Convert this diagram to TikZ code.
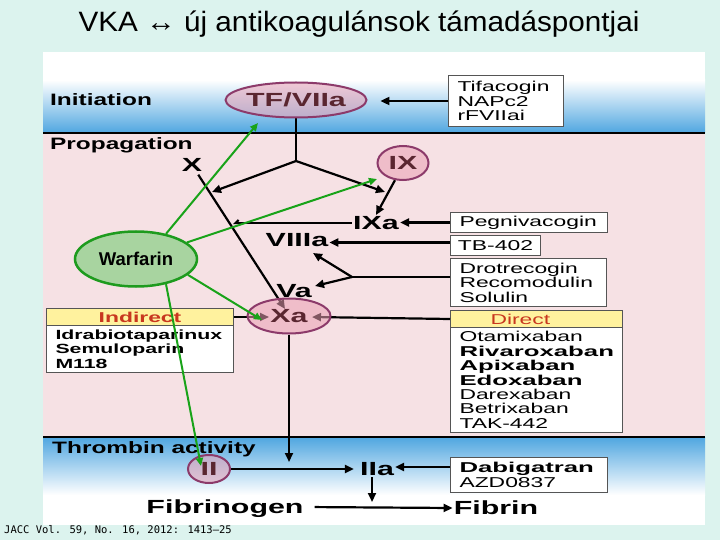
\documentclass[tikz,border=0pt]{standalone}
\usepackage{fontspec}
\setmainfont{Liberation Sans}
\newfontfamily\ttl[FakeStretch=1.06]{Liberation Sans}
\newfontfamily\dg[FakeStretch=1.6]{Liberation Sans}
\newfontfamily\dgs[FakeStretch=1.48]{Liberation Sans}
\newfontfamily\dgh[FakeStretch=1.8]{Liberation Sans}
\newfontfamily\ft{DejaVu Sans Mono}
\usetikzlibrary{shapes.geometric,arrows.meta}
\definecolor{bgc}{HTML}{DCF3EE}
\definecolor{pinkbg}{HTML}{F6E1E4}
\definecolor{blueb}{HTML}{4FA6E0}
\definecolor{plum}{HTML}{8C3A6A}
\definecolor{facfill}{HTML}{EBA0B4}
\definecolor{factext}{HTML}{5A2630}
\definecolor{yel}{HTML}{FFF29E}
\definecolor{redc}{HTML}{C8371F}
\definecolor{wgreen}{HTML}{1E9B1E}
\definecolor{wfill}{HTML}{A8D4A0}
\definecolor{ggreen}{HTML}{19A319}
\definecolor{boxdraw}{HTML}{555555}
\pgfdeclarelayer{fore}
\pgfdeclarelayer{top}
\pgfsetlayers{main,fore,top}
\tikzset{
  seclab/.style={anchor=base west, inner sep=0pt, font=\dgs\bfseries\fontsize{16.5}{18}\selectfont},
  big/.style={inner sep=1pt, text height=13.6pt, text depth=0pt, font=\dg\bfseries\fontsize{19}{20}\selectfont},
  fac/.style={ellipse, draw=plum, line width=2pt, fill=facfill, fill opacity=0.55, draw opacity=1, text opacity=1,
              text=factext, inner sep=0pt, text height=13.6pt, text depth=0pt, font=\dg\bfseries\fontsize{19}{20}\selectfont},
  drugbox/.style={rectangle, draw=boxdraw, line width=1pt, fill=white, anchor=north west, inner xsep=9pt, inner ysep=0pt,
              align=left, font=\dg\fontsize{14.3}{14.4}\selectfont},
  hdr/.style={rectangle, draw=boxdraw, line width=1pt, fill=yel, anchor=north west, inner xsep=9pt, inner ysep=0pt,
              text=redc, font=\dg\fontsize{14.3}{14.4}\selectfont},
  conn/.style={black, line width=2.2pt},
  arr/.style={conn, -{Triangle[length=9pt,width=8pt]}},
  garr/.style={ggreen, line width=2pt, -{Triangle[length=8pt,width=7pt]}}
}
\begin{document}
\begin{tikzpicture}[x=1pt,y=-1pt]
\useasboundingbox (0,0) rectangle (720,540);
% background
\fill[bgc] (0,0) rectangle (720,540);
\fill[white] (43,52) rectangle (705,525);
\shade[top color=white,bottom color=blueb] (43,80) rectangle (705,133);
\fill[pinkbg] (43,133) rectangle (705,437);
\shade[top color=blueb,bottom color=white] (43,437) rectangle (705,495);
\draw[line width=2.5pt] (43,133) -- (705,133);
\draw[line width=2.5pt] (43,437) -- (705,437);

% title and labels
\node[anchor=base, inner sep=0pt, font=\ttl\fontsize{28}{30}\selectfont] (title) at (359,32) {VKA ↔ új antikoagulánsok támadáspontjai};
\node[seclab] (init) at (50,106) {Initiation};
\node[seclab] (prop) at (50,150) {Propagation};
\node[seclab] (thr) at (52,453) {Thrombin activity};
\node[anchor=base west, inner sep=0pt, font=\ft\fontsize{10.5}{12}\selectfont] (fn) at (4,533) {JACC Vol. 59, No. 16, 2012: 1413–25};

% factor ellipses (semi-transparent, above connectors)
\begin{pgfonlayer}{fore}
\node[fac, minimum width=137pt, minimum height=35pt] (tf) at (296,100) {TF/VIIa};
\node[fac, minimum width=51pt, minimum height=34pt] (ix) at (403,163) {IX};
\node[fac, minimum width=83pt, minimum height=35pt] (xa) at (289,316) {Xa};
\node[fac, minimum width=42pt, minimum height=28pt] (ii) at (209,469) {II};
\end{pgfonlayer}

% plain labels
\node[big] (X) at (192,165) {X};
\node[big] (ixa) at (376,223) {IXa};
\node[big] (viiia) at (297,240) {VIIIa};
\node[big] (va) at (294,291) {Va};
\node[big] (iia) at (377,469) {IIa};
\node[big] (fbg) at (225,507) {Fibrinogen};
\node[big] (fib) at (496,508) {Fibrin};

% drug boxes
\node[drugbox, minimum width=115pt, minimum height=51pt, text width=97pt] (tifa) at (448,75) {Tifacogin\\NAPc2\\rFVIIai};
\node[drugbox, minimum width=157pt, minimum height=20pt, text width=139pt] (peg) at (450,212) {Pegnivacogin};
\node[drugbox, minimum width=90pt, minimum height=20pt, inner xsep=0pt] (tb) at (450,235) {TB-402};
\node[drugbox, minimum width=156pt, minimum height=48pt, text width=138pt] (dro) at (450,258) {Drotrecogin\\Recomodulin\\Solulin};
\node[hdr, minimum width=172pt, minimum height=17pt, text width=154pt, align=left] (dirh) at (450,310) {\hspace*{31pt}Direct};
\node[drugbox, minimum width=172pt, minimum height=105pt, text width=154pt] (dirb) at (450,327)
  {Otamixaban\\{\dgh\bfseries Rivaroxaban}\\{\dgh\bfseries Apixaban}\\{\dgh\bfseries Edoxaban}\\Darexaban\\Betrixaban\\TAK-442};
\node[hdr, minimum width=187pt, minimum height=17pt, text width=169pt, align=center, font=\dg\bfseries\fontsize{14.3}{14.4}\selectfont] (indh) at (46,308) {Indirect};
\node[drugbox, minimum width=187pt, minimum height=47pt, text width=169pt, font=\dg\bfseries\fontsize{13.3}{14.4}\selectfont] (indb) at (46,325)
  {Idrabiotaparinux\\Semuloparin\\M118};
\node[drugbox, minimum width=157pt, minimum height=35pt, text width=139pt] (dab) at (450,457) {{\dgh\bfseries Dabigatran}\\AZD0837};

% coordinates for connector ends
\coordinate (br) at (296,161);
\coordinate (tl) at (212,192);
\coordinate (tr) at (385,192);
\coordinate (xin) at (285,309);
\coordinate (ixl) at (233,222);
\coordinate (br2) at (352,277);
\coordinate (tv8) at (313,253);
\coordinate (tva) at (315,286);
\coordinate (xal) at (269,317);
\coordinate (xar) at (312,317);
\coordinate (xad) at (289,462);
\coordinate (iid) at (372,502);

% black connectors
\draw[arr, shorten >=13pt] (tifa.west) -- (tifa.west -| tf.east);
\draw[conn] (tf.south) -- (br);
\draw[arr] (br) -- (tl);
\draw[arr] (br) -- (tr);
\draw[arr, shorten <=2pt] (X) -- (xin);
\draw[arr] (ix.-115) -- (ixa.north);
\draw[conn, -{Straight Barb[right,length=3pt,width=6pt]}] (ixa.west) -- (ixa.west -| ixl);
\draw[arr] (peg.west) -- (peg.west -| ixa.east);
\draw[arr] ([yshift=3pt]tb.west) -- ([yshift=3pt]tb.west -| viiia.east);
\draw[conn] (dro.west |- br2) -- (br2);
\draw[arr] (br2) -- (tv8);
\draw[arr] (br2) -- (tva);
\draw[arr] (indh.east) -- (xal);
\draw[arr] (dirh.west) -- (xar);
\draw[arr] (xa.south) -- (xad);
\draw[arr, shorten >=5pt] (ii.east) -- (ii.east -| iia.west);
\draw[arr] ([yshift=8pt]dab.west) -- ([yshift=8pt]dab.west -| iia.east);
\draw[arr] (iia.south -| iid) -- (iid);
\draw[arr, shorten <=10pt] (fbg.east) -- (fib.west);

% warfarin
\node[ellipse, draw=wgreen, line width=2.5pt, fill=wfill, minimum width=122pt, minimum height=55pt, inner sep=0pt,
      font=\bfseries\fontsize{18.5}{20}\selectfont] (w) at (136,259) {Warfarin};
\coordinate (g1) at (258,123);
\coordinate (g2) at (377,179);
\coordinate (g3) at (262,320);
\coordinate (g4) at (201,466);
\begin{pgfonlayer}{top}
\draw[garr] (w.40) -- (g1);
\draw[garr] (w.18) -- (g2);
\draw[garr] (w.-17) -- (g3);
\draw[garr] (w.-40) -- (g4);
\end{pgfonlayer}
\end{tikzpicture}
\end{document}
